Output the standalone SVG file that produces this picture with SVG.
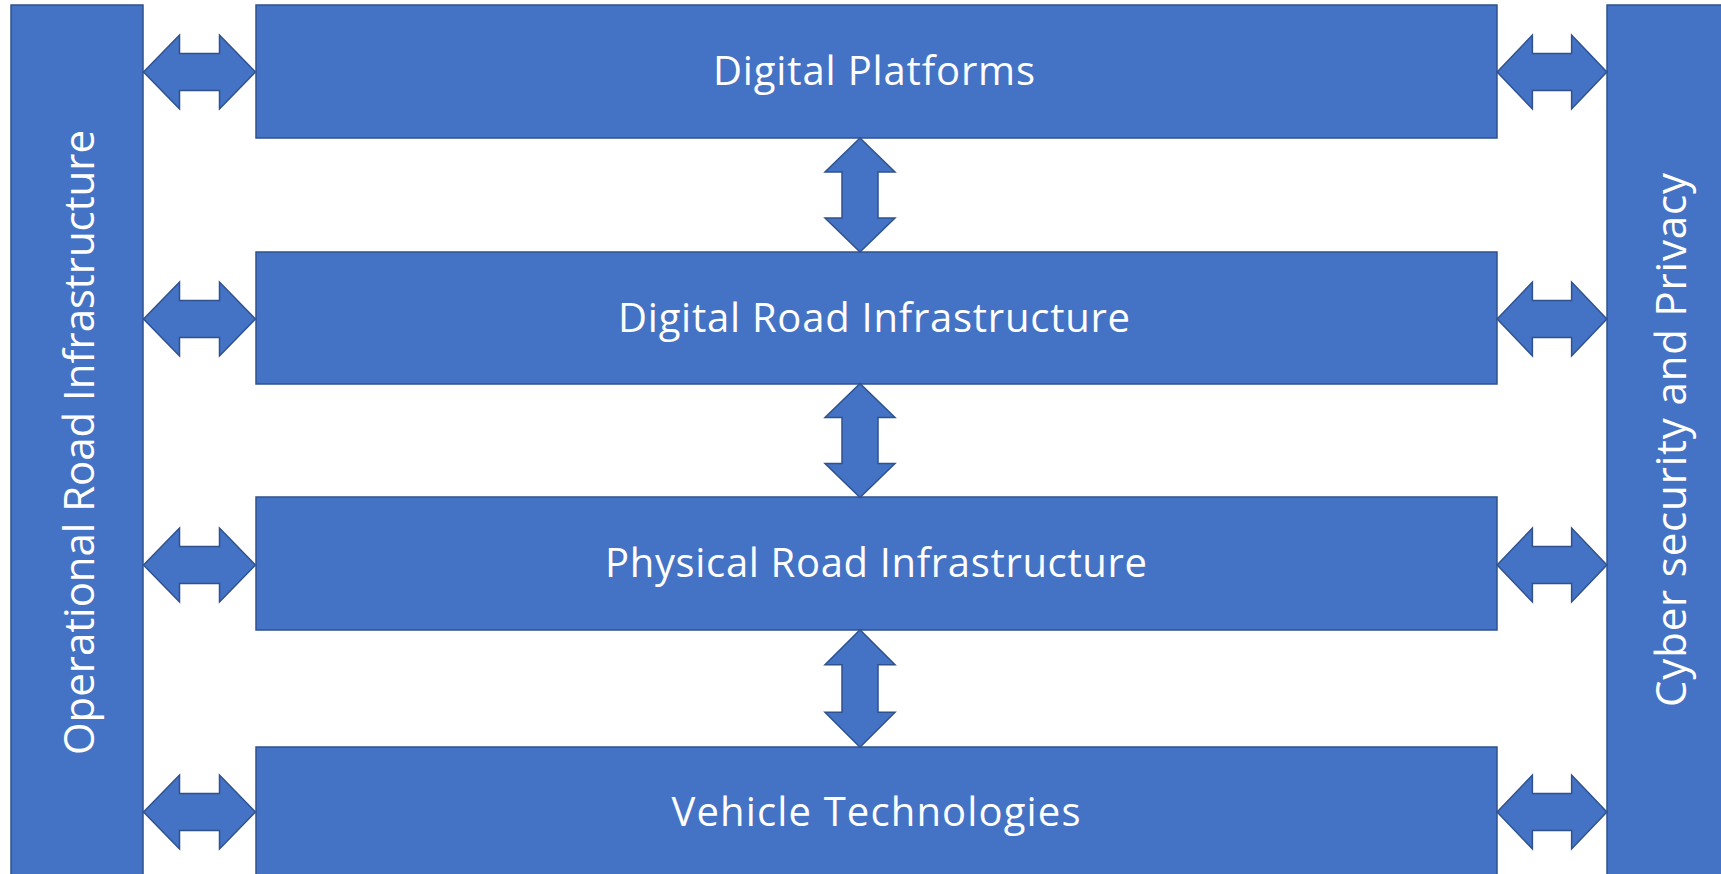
<svg xmlns="http://www.w3.org/2000/svg" xmlns:xlink="http://www.w3.org/1999/xlink" width="1721" height="874" viewBox="0 0 1721 874">
<style>
.box{fill:#4472C4;stroke:#2F528F;stroke-width:1.5}
.arrow{fill:#4472C4;stroke:#2F528F;stroke-width:1.5;stroke-linejoin:miter}
.lbl{font-family:"Open Sans","Noto Sans","Liberation Sans",sans-serif;font-size:40px;fill:#FFFFFF;text-anchor:middle}
.vlbl{font-family:"Open Sans","Noto Sans","Liberation Sans",sans-serif;font-size:42px;fill:#FFFFFF;text-anchor:middle}
</style>
<defs>
<path id="harrow" d="M-56,0 L-20,-37 L-20,-18.5 L20,-18.5 L20,-37 L56,0 L20,37 L20,18.5 L-20,18.5 L-20,37 Z"/>
<path id="varrow" d="M0,-57 L35,-23 L18,-23 L18,23 L35,23 L0,57 L-35,23 L-18,23 L-18,-23 L-35,-23 Z"/>
</defs>
<rect width="1721" height="874" fill="#FFFFFF"/>
<g id="operational">
<rect class="box" x="11" y="5" width="132" height="880"/>
<text class="vlbl" transform="translate(94,442.5) rotate(-90)" textLength="625">Operational Road Infrastructure</text>
</g>
<g id="cyber">
<rect class="box" x="1607" y="5" width="130" height="880"/>
<text class="vlbl" transform="translate(1686,440) rotate(-90)" textLength="534">Cyber security and Privacy</text>
</g>
<g id="digital-platforms">
<rect class="box" x="256" y="5" width="1241" height="133"/>
<text class="lbl" x="874" y="85" textLength="322">Digital Platforms</text>
</g>
<g id="digital-road">
<rect class="box" x="256" y="252" width="1241" height="132"/>
<text class="lbl" x="874" y="332" textLength="512">Digital Road Infrastructure</text>
</g>
<g id="physical-road">
<rect class="box" x="256" y="497" width="1241" height="133"/>
<text class="lbl" x="876" y="577" textLength="542">Physical Road Infrastructure</text>
</g>
<g id="vehicle">
<rect class="box" x="256" y="747" width="1241" height="140"/>
<text class="lbl" x="876" y="826" textLength="409">Vehicle Technologies</text>
</g>
<g id="connectors">
<use xlink:href="#harrow" class="arrow" transform="translate(199.5,72)"/>
<use xlink:href="#harrow" class="arrow" transform="translate(199.5,319)"/>
<use xlink:href="#harrow" class="arrow" transform="translate(199.5,565)"/>
<use xlink:href="#harrow" class="arrow" transform="translate(199.5,812)"/>
<use xlink:href="#harrow" class="arrow" transform="translate(1552,72) scale(0.98,1)"/>
<use xlink:href="#harrow" class="arrow" transform="translate(1552,319) scale(0.98,1)"/>
<use xlink:href="#harrow" class="arrow" transform="translate(1552,565) scale(0.98,1)"/>
<use xlink:href="#harrow" class="arrow" transform="translate(1552,812) scale(0.98,1)"/>
<use xlink:href="#varrow" class="arrow" transform="translate(860,195)"/>
<use xlink:href="#varrow" class="arrow" transform="translate(860,440.5)"/>
<use xlink:href="#varrow" class="arrow" transform="translate(860,688.5) scale(1,1.03)"/>
</g>
</svg>
